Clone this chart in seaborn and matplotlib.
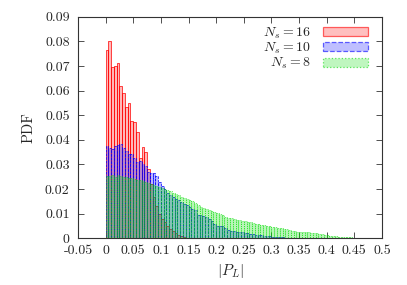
# -*- coding: utf-8 -*-
import numpy as np
import pandas as pd
import matplotlib
matplotlib.use("Agg")
import matplotlib.pyplot as plt
from matplotlib.patches import Patch
from matplotlib.ticker import FuncFormatter, MultipleLocator
import seaborn as sns

'''histogram data, bin width 0.005 starting at |P_L| = 0'''
bin_width = 0.005

pdf_ns16 = [0.0765, 0.0802, 0.0694, 0.0700, 0.0711, 0.0619, 0.0592, 0.0534, 0.0551, 0.0478,
            0.0471, 0.0433, 0.0328, 0.0372, 0.0352, 0.0280, 0.0220, 0.0170, 0.0130, 0.0100,
            0.0080, 0.0065, 0.0050, 0.0040, 0.0030, 0.0020, 0.0015, 0.0010, 0.0005]

pdf_ns10 = [0.0374, 0.0368, 0.0364, 0.0374, 0.0378, 0.0385, 0.0368, 0.0353, 0.0344, 0.0344,
            0.0328, 0.0309, 0.0313, 0.0304, 0.0293, 0.0271, 0.0267, 0.0267, 0.0252, 0.0228,
            0.0212, 0.0200, 0.0185, 0.0175, 0.0170, 0.0160, 0.0155, 0.0148, 0.0140, 0.0135,
            0.0126, 0.0120, 0.0115, 0.0097, 0.0093, 0.0090, 0.0085, 0.0078, 0.0070, 0.0057,
            0.0052, 0.0050, 0.0049, 0.0042, 0.0036, 0.0032, 0.0030, 0.0028, 0.0026, 0.0024,
            0.0022, 0.0020, 0.0018, 0.0016, 0.0015, 0.0013, 0.0012, 0.0010, 0.0009, 0.0008,
            0.0007, 0.0006, 0.0005, 0.0004, 0.0004, 0.0003, 0.0003, 0.0002, 0.0002, 0.0001,
            0.0001, 0.0001]

pdf_ns8 = [0.0255, 0.0252, 0.0258, 0.0250, 0.0256, 0.0254, 0.0249, 0.0251, 0.0246, 0.0244,
           0.0240, 0.0236, 0.0238, 0.0232, 0.0228, 0.0226, 0.0222, 0.0218, 0.0214, 0.0210,
           0.0206, 0.0201, 0.0196, 0.0192, 0.0186, 0.0180, 0.0176, 0.0170, 0.0165, 0.0160,
           0.0155, 0.0150, 0.0142, 0.0135, 0.0127, 0.0122, 0.0119, 0.0115, 0.0112, 0.0106,
           0.0103, 0.0098, 0.0095, 0.0088, 0.0083, 0.0081, 0.0079, 0.0076, 0.0075, 0.0072,
           0.0070, 0.0068, 0.0066, 0.0064, 0.0060, 0.0058, 0.0055, 0.0054, 0.0051, 0.0050,
           0.0048, 0.0046, 0.0043, 0.0041, 0.0039, 0.0037, 0.0034, 0.0031, 0.0029, 0.0027,
           0.0027, 0.0026, 0.0025, 0.0024, 0.0022, 0.0021, 0.0020, 0.0018, 0.0016, 0.0014,
           0.0013, 0.0011, 0.0010, 0.0008, 0.0007, 0.0006, 0.0005, 0.0004, 0.0004, 0.0003,
           0.0002, 0.0002, 0.0001, 0.0001]

series_labels = ["$N_s = 16$", "$N_s = 10$", "$N_s = 8$"]
series_colors = ["#ff0000", "#0000ff", "#00dd00"]
series_styles = ["-", "--", ":"]

sns.set_style("ticks")
plt.rcParams['font.family'] = ['cmr10', 'DejaVu Serif']
plt.rcParams['mathtext.fontset'] = 'cm'
plt.rcParams['axes.unicode_minus'] = False
plt.rcParams['axes.formatter.use_mathtext'] = True

fig = plt.figure(figsize=(4.07, 2.85), dpi=100)
ax = fig.add_axes([0.1916, 0.1635, 0.747, 0.778])

handles = []
for vals, lab, col, ls in zip([pdf_ns16, pdf_ns10, pdf_ns8], series_labels, series_colors, series_styles):
    n = len(vals)
    df = pd.DataFrame({'pl': (np.arange(n) + 0.5) * bin_width, 'pdf': vals})
    sns.histplot(data=df, x='pl', weights='pdf', binwidth=bin_width, binrange=(0, n * bin_width),
                 stat='count', ax=ax, color=col, alpha=0.28, edgecolor=col,
                 linewidth=0.5, linestyle=ls)
    handles.append(Patch(facecolor=matplotlib.colors.to_rgba(col, 0.25),
                         edgecolor=matplotlib.colors.to_rgba(col, 0.6),
                         linestyle=ls, linewidth=0.9, label=lab))

ax.set_xlim(-0.05, 0.5)
ax.set_ylim(0, 0.09)
ax.xaxis.set_major_locator(MultipleLocator(0.05))
ax.yaxis.set_major_locator(MultipleLocator(0.01))
fmt = FuncFormatter(lambda v, p: '%g' % round(v, 3))
ax.xaxis.set_major_formatter(fmt)
ax.yaxis.set_major_formatter(fmt)
ax.tick_params(direction='in', length=4, width=0.6, labelsize=10, top=True, right=True,
               color='#333333')
ax.tick_params(axis='x', pad=5)
ax.tick_params(axis='y', pad=6)
for sp in ax.spines.values():
    sp.set_linewidth(0.8)
    sp.set_color('#333333')

ax.set_xlabel('$|P_L|$', fontsize=11, labelpad=3)
ax.set_ylabel('PDF', fontsize=10.5, labelpad=7)

leg = ax.legend(handles=handles, loc='upper right', bbox_to_anchor=(0.985, 1.005),
                frameon=False, markerfirst=False, fontsize=10, handlelength=3.2,
                handleheight=0.6, labelspacing=0.0, handletextpad=0.9, borderpad=0.2)

fig.savefig('out.png', dpi=100)
